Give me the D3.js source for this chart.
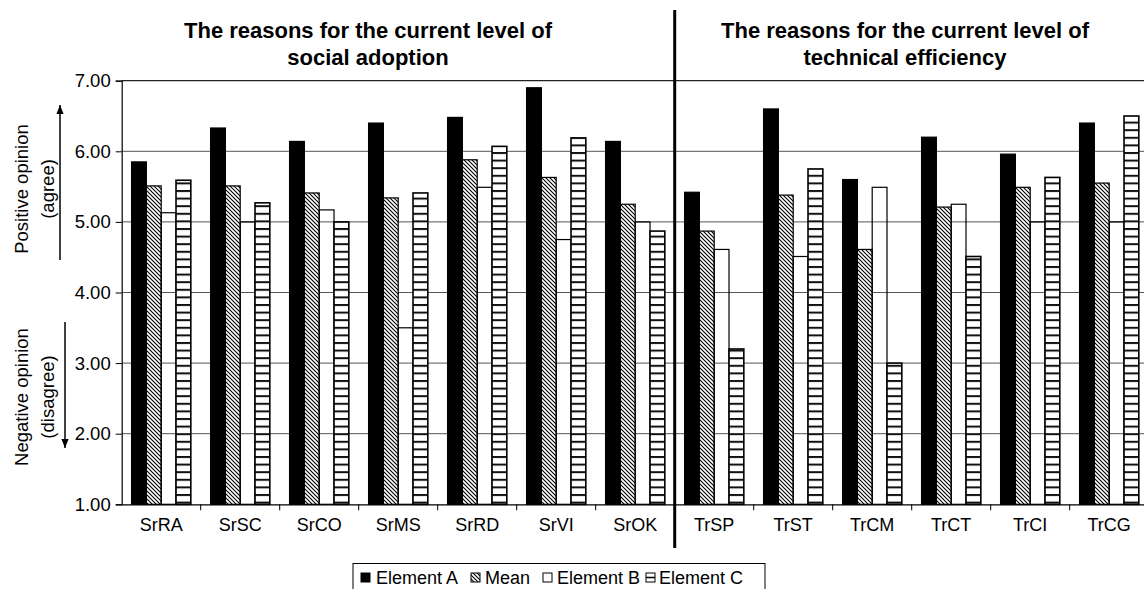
<!DOCTYPE html>
<html><head><meta charset="utf-8">
<script src="https://cdn.jsdelivr.net/npm/d3@7"></script>
<style>
html,body{margin:0;padding:0;background:#fff;}
svg{display:block;font-family:"Liberation Sans",Arial,sans-serif;}
</style></head>
<body><svg id="c" width="1144" height="589"></svg>
<script>
const categories = ["SrRA","SrSC","SrCO","SrMS","SrRD","SrVI","SrOK","TrSP","TrST","TrCM","TrCT","TrCI","TrCG"];
const seriesNames = ["Element A","Mean","Element B","Element C"];
const elementA = [5.85,6.33,6.14,6.40,6.48,6.90,6.14,5.42,6.60,5.60,6.20,5.96,6.40];
const meanVals = [5.51,5.51,5.41,5.34,5.88,5.63,5.25,4.87,5.38,4.61,5.21,5.49,5.55];
const elementB = [5.13,5.00,5.17,3.50,5.49,4.75,5.00,4.61,4.51,5.49,5.25,5.00,5.00];
const elementC = [5.59,5.27,5.00,5.41,6.07,6.19,4.87,3.20,5.75,3.00,4.51,5.63,6.50];
const yTicks = [1,2,3,4,5,6,7];
const titleLeft = ["The reasons for the current level of","social adoption"];
const titleRight = ["The reasons for the current level of","technical efficiency"];
const yTitlePos = ["Positive opinion","(agree)"];
const yTitleNeg = ["Negative opinion","(disagree)"];

const seriesValues = [elementA, meanVals, elementB, elementC];

const svg = d3.select("#c");
const L = 121.7, R = 1148.7, T = 80.7, B = 504.3;

const defs = svg.append("defs");
const ph = defs.append("pattern").attr("id","hatch").attr("patternUnits","userSpaceOnUse")
  .attr("width",4).attr("height",4);
ph.append("rect").attr("width",4).attr("height",4).attr("fill","#fff");
ph.append("path").attr("d","M-1,-1 L5,5 M-1,3 L1,5 M3,-1 L5,1").attr("stroke","#000").attr("stroke-width",1.1);

const pc = defs.append("pattern").attr("id","ladder").attr("patternUnits","userSpaceOnUse")
  .attr("width",10).attr("height",7.6);
pc.append("rect").attr("width",10).attr("height",7.6).attr("fill","#fff");
pc.append("rect").attr("y",0).attr("width",10).attr("height",2).attr("fill","#111");

const fills = ["#000","url(#hatch)","none","url(#ladder)"];

const x = d3.scaleBand().domain(categories).range([L,R]).paddingInner(0).paddingOuter(0);
const xs = d3.scaleBand().domain(seriesNames).range([0,x.bandwidth()]).paddingInner(0).paddingOuter(0.6667);
const y = d3.scaleLinear().domain([1,7]).range([B,T]);

// gridlines
svg.append("g").selectAll("line").data(yTicks.filter(v=>v>1 && v<7)).join("line")
  .attr("x1",L).attr("x2",R).attr("y1",d=>y(d)).attr("y2",d=>y(d))
  .attr("stroke","#555").attr("stroke-width",1);
svg.append("line").attr("x1",L).attr("x2",R).attr("y1",y(7)).attr("y2",y(7)).attr("stroke","#222").attr("stroke-width",1.2);

// bars
const gBars = svg.append("g");
seriesNames.forEach((s,si)=>{
  gBars.append("g").selectAll("rect").data(categories).join("rect")
    .attr("x",(c)=>x(c)+xs(s))
    .attr("width",xs.bandwidth())
    .attr("y",(c,i)=>y(seriesValues[si][i]))
    .attr("height",(c,i)=>B-y(seriesValues[si][i]))
    .attr("fill",fills[si])
    .attr("stroke","#000")
    .attr("stroke-width",si===3?1.6:1.2);
});

// y axis
const yAxis = d3.axisLeft(y).tickValues(yTicks).tickFormat(d3.format(".2f")).tickSize(6).tickPadding(5);
const gy = svg.append("g").attr("transform",`translate(${L},0)`).call(yAxis);
gy.select(".domain").attr("stroke","#000").attr("stroke-width",1.2);
gy.selectAll(".tick line").attr("stroke","#000");
gy.selectAll("text").attr("font-size",18.5).attr("font-family","Liberation Sans, Arial, sans-serif").attr("fill","#000");

// x axis
const xAxis = d3.axisBottom(x).tickSize(0).tickPadding(14);
const gx = svg.append("g").attr("transform",`translate(0,${B})`).call(xAxis);
gx.select(".domain").attr("stroke","#000").attr("stroke-width",1.2);
gx.selectAll("text").attr("font-size",18).attr("font-family","Liberation Sans, Arial, sans-serif").attr("fill","#000");
gx.append("g").selectAll("line").data(categories.slice(1)).join("line")
  .attr("x1",d=>x(d)).attr("x2",d=>x(d)).attr("y1",0).attr("y2",6).attr("stroke","#000");

// separator
const sepX = x(categories[7]);
svg.append("line").attr("x1",sepX).attr("x2",sepX).attr("y1",10).attr("y2",548).attr("stroke","#000").attr("stroke-width",3);

// titles
function title(lines, cx){
  const t = svg.append("text").attr("text-anchor","middle").attr("font-weight","bold").attr("font-size",22).attr("fill","#000");
  lines.forEach((ln,i)=>t.append("tspan").attr("x",cx).attr("y",38+i*26.5).text(ln));
}
title(titleLeft, 368);
title(titleRight, 905);

// y titles
function rotText(lines, cy, xs0){
  lines.forEach((ln,i)=>{
    svg.append("text").attr("transform",`translate(${xs0[i]},${cy}) rotate(-90)`)
      .attr("text-anchor","middle").attr("dominant-baseline","central")
      .attr("font-size",18.5).attr("fill","#000").text(ln);
  });
}
rotText(yTitlePos, 189, [21,47]);
rotText(yTitleNeg, 397, [21,47]);

// arrows
defs.append("marker").attr("id","ah").attr("viewBox","0 0 10 10").attr("refX",10).attr("refY",5)
  .attr("markerWidth",6).attr("markerHeight",6).attr("orient","auto")
  .append("path").attr("d","M0,1 L10,5 L0,9 Z").attr("fill","#000");
svg.append("line").attr("x1",60).attr("x2",60).attr("y1",260).attr("y2",105).attr("stroke","#000").attr("stroke-width",1.5).attr("marker-end","url(#ah)");
svg.append("line").attr("x1",65).attr("x2",65).attr("y1",322).attr("y2",448).attr("stroke","#000").attr("stroke-width",1.5).attr("marker-end","url(#ah)");

// legend
const lg = svg.append("g");
lg.append("rect").attr("x",353).attr("y",563.5).attr("width",412).attr("height",40).attr("fill","#fff").attr("stroke","#000").attr("stroke-width",1);
const swX = [361,471,543,646];
const txX = [376,485,557,659];
seriesNames.forEach((s,i)=>{
  lg.append("rect").attr("x",swX[i]).attr("y",573).attr("width",9).attr("height",9)
    .attr("fill",i===3?"#fff":fills[i]).attr("stroke","#000").attr("stroke-width",1);
  if(i===3){
    lg.append("line").attr("x1",swX[i]).attr("x2",swX[i]+9).attr("y1",577.5).attr("y2",577.5).attr("stroke","#000").attr("stroke-width",1.5);
  }
  lg.append("text").attr("x",txX[i]).attr("y",584).attr("font-size",18).attr("fill","#000").text(s);
});
</script></body></html>
